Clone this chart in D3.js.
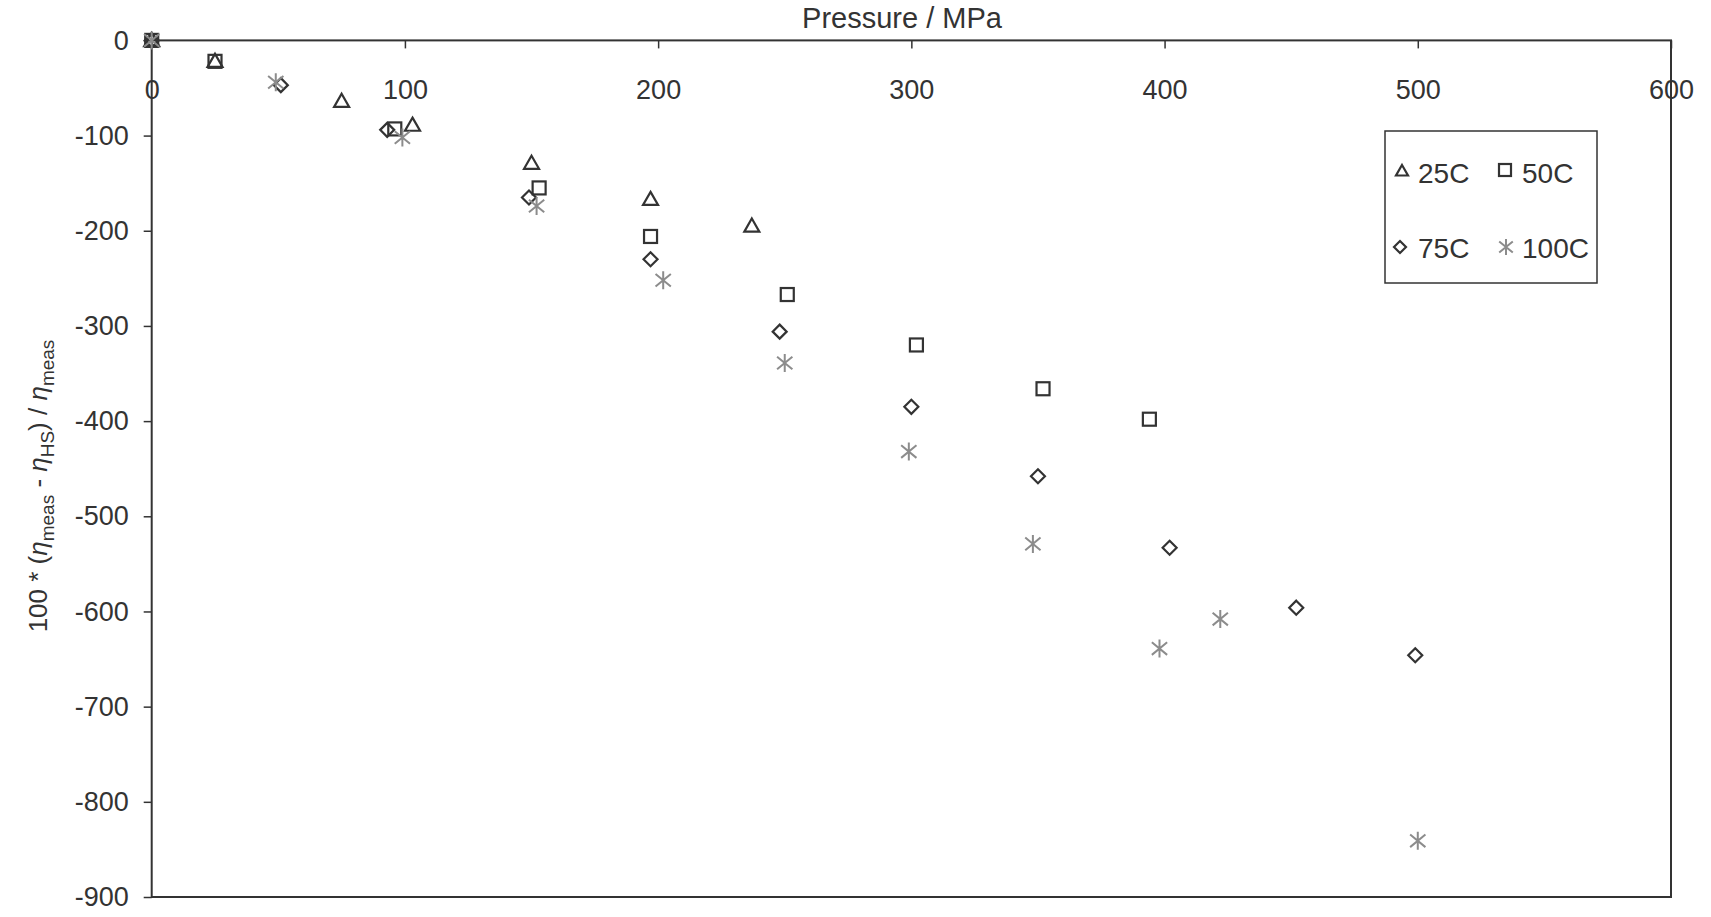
<!DOCTYPE html>
<html>
<head>
<meta charset="utf-8">
<script src="https://cdn.jsdelivr.net/npm/d3@7"></script>
<style>
  html, body { margin: 0; padding: 0; background: #ffffff; }
  svg { display: block; }
  text { font-family: "Liberation Sans", Arial, sans-serif; fill: #333; }
</style>
</head>
<body>
<svg id="chart" width="1711" height="917"></svg>
<script>
// ---- data ----
const seriesNames = ["25C", "50C", "75C", "100C"];
const p25  = [0, 25, 75, 103, 150, 197, 237];
const v25  = [0, -22, -64, -89, -129, -167, -195];
const p50  = [0, 25, 96, 153, 197, 251, 302, 352, 394];
const v50  = [0, -22, -93, -155, -206, -267, -320, -366, -398];
const p75  = [0, 51, 93, 149, 197, 248, 300, 350, 402, 452, 499];
const v75  = [0, -47, -94, -165, -230, -306, -385, -458, -533, -596, -646];
const p100 = [0, 49, 99, 152, 202, 250, 299, 348, 398, 422, 500];
const v100 = [0, -44, -102, -174, -252, -339, -432, -529, -639, -608, -841];
const xTicks = [0, 100, 200, 300, 400, 500, 600];
const yTicks = [0, -100, -200, -300, -400, -500, -600, -700, -800, -900];
const xTitle = "Pressure / MPa";

// ---- layout ----
const svg = d3.select("#chart");
const plotL = 151.7, plotR = 1671, plotT = 40.4, plotB = 897;
const x = d3.scaleLinear().domain([0, 600]).range([plotL, plotR]);
const y = d3.scaleLinear().domain([-900, 0]).range([plotB, plotT]);
const ink = "#333";
const grey = "#8c8c8c";

// frame
svg.append("rect")
  .attr("x", plotL).attr("y", plotT)
  .attr("width", plotR - plotL).attr("height", plotB - plotT)
  .attr("fill", "none").attr("stroke", ink).attr("stroke-width", 2);

// x axis (on top line, labels inside below)
const xAxis = d3.axisBottom(x).tickValues(xTicks).tickSize(8).tickPadding(31).tickFormat(d3.format("d"));
const gx = svg.append("g").attr("transform", `translate(0,${y(0)})`).call(xAxis);
gx.select(".domain").remove();
gx.selectAll(".tick line").attr("stroke", ink).attr("stroke-width", 1.5);
gx.selectAll(".tick text").attr("font-size", 27).attr("fill", ink)
  .attr("font-family", '"Liberation Sans", Arial, sans-serif');

// y axis
const yAxis = d3.axisLeft(y).tickValues(yTicks).tickSize(8).tickPadding(15).tickFormat(d3.format("d"));
const gy = svg.append("g").attr("transform", `translate(${plotL},0)`).call(yAxis);
gy.select(".domain").remove();
gy.selectAll(".tick line").attr("stroke", ink).attr("stroke-width", 1.5);
gy.selectAll(".tick text").attr("font-size", 27).attr("fill", ink)
  .attr("font-family", '"Liberation Sans", Arial, sans-serif')
  .text(d => String(d));

// x title
svg.append("text").attr("x", 902).attr("y", 28).attr("text-anchor", "middle")
  .attr("font-size", 29).text(xTitle);

// y title with subscripts
const yt = svg.append("text")
  .attr("transform", "translate(47,486) rotate(-90)")
  .attr("text-anchor", "middle").attr("font-size", 26);
const parts = [
  ["100 * (", "n"], ["\u03B7", "i"], ["meas", "s"], [" - ", "n"], ["\u03B7", "i"], ["HS", "s"],
  [") / ", "n"], ["\u03B7", "i"], ["meas", "s"]
];
let shifted = false;
parts.forEach(([t, k]) => {
  const ts = yt.append("tspan").text(t);
  if (k === "i") ts.attr("font-style", "italic");
  if (k === "s") { ts.attr("font-size", 19).attr("dy", 7); shifted = true; }
  else if (shifted) { ts.attr("dy", -7); shifted = false; }
});

// ---- marker shapes ----
function drawMarker(g, kind, cx, cy, s, color) {
  const h = s / 2;
  if (kind === "tri") {
    g.append("path").attr("d", `M${cx},${cy - h} L${cx + h},${cy + h * 0.75} L${cx - h},${cy + h * 0.75} Z`)
      .attr("fill", "none").attr("stroke", color).attr("stroke-width", 2.2);
  } else if (kind === "sq") {
    g.append("rect").attr("x", cx - h).attr("y", cy - h).attr("width", s).attr("height", s)
      .attr("fill", "none").attr("stroke", color).attr("stroke-width", 2.2);
  } else if (kind === "dia") {
    g.append("path").attr("d", `M${cx},${cy - h} L${cx + h},${cy} L${cx},${cy + h} L${cx - h},${cy} Z`)
      .attr("fill", "none").attr("stroke", color).attr("stroke-width", 2.2);
  } else {
    g.append("path").attr("d",
      `M${cx},${cy - h} L${cx},${cy + h} M${cx - h * 0.85},${cy - h * 0.7} L${cx + h * 0.85},${cy + h * 0.7} M${cx - h * 0.85},${cy + h * 0.7} L${cx + h * 0.85},${cy - h * 0.7}`)
      .attr("fill", "none").attr("stroke", color).attr("stroke-width", 2);
  }
}

const series = [
  { name: seriesNames[0], p: p25, v: v25, kind: "tri", size: 15, color: ink },
  { name: seriesNames[1], p: p50, v: v50, kind: "sq", size: 13, color: ink },
  { name: seriesNames[2], p: p75, v: v75, kind: "dia", size: 14, color: ink },
  { name: seriesNames[3], p: p100, v: v100, kind: "ast", size: 18, color: grey }
];

const gm = svg.append("g");
series.forEach(s => {
  s.p.forEach((pv, i) => drawMarker(gm, s.kind, x(pv), y(s.v[i]), s.size, s.color));
});

// ---- legend ----
const lg = svg.append("g");
lg.append("rect").attr("x", 1385).attr("y", 131).attr("width", 212).attr("height", 152)
  .attr("fill", "#fff").attr("stroke", ink).attr("stroke-width", 1.5);
const legendPos = [
  { sx: 1402, sy: 171, tx: 1418, ty: 183 },
  { sx: 1505, sy: 170, tx: 1522, ty: 183 },
  { sx: 1400, sy: 247, tx: 1418, ty: 258 },
  { sx: 1506, sy: 247, tx: 1522, ty: 258 }
];
series.forEach((s, i) => {
  const lp = legendPos[i];
  drawMarker(lg, s.kind, lp.sx, lp.sy, s.kind === "ast" ? 16 : 12, s.color);
  lg.append("text").attr("x", lp.tx).attr("y", lp.ty).attr("font-size", 28).text(s.name);
});
</script>
</body>
</html>
